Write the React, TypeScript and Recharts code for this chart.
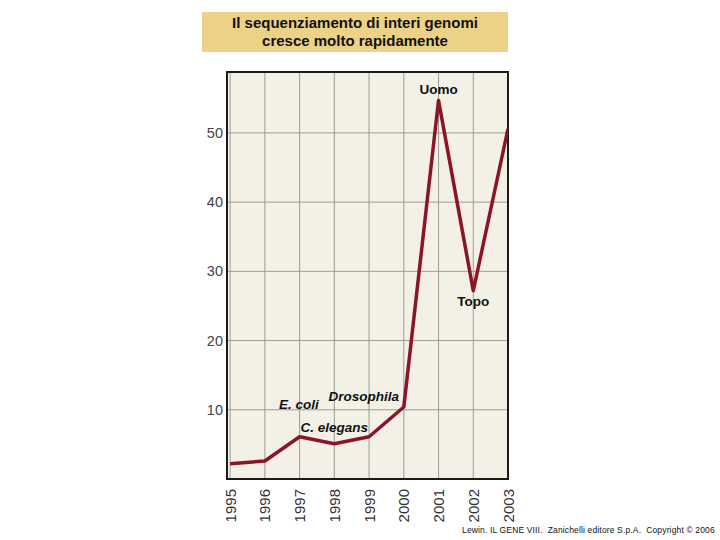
import React from 'react';
import {
  LineChart, Line, XAxis, YAxis, CartesianGrid, ReferenceDot, ReferenceArea,
} from 'recharts';

const years = [1995, 1996, 1997, 1998, 1999, 2000, 2001, 2002, 2003];
const genomes = [2.2, 2.6, 6.1, 5.1, 6.1, 10.4, 54.7, 27.2, 50.6];
const yTicks = [10, 20, 30, 40, 50];
const titleLines = ['Il sequenziamento di interi genomi', 'cresce molto rapidamente'];
const credit = 'Lewin. IL GENE VIII.  Zanichelli editore S.p.A.  Copyright \u00A9 2006';

const labelNames = ['Uomo', 'Topo', 'E. coli', 'Drosophila', 'C. elegans'];
const labelYears = [2001, 2002, 1996.98, 1998.85, 1998.0];
const labelValues = [54.7, 27.2, 10.8, 12.0, 7.55];
const labelPositions = ['top', 'bottom', 'center', 'center', 'center'];
const labelItalic = [false, false, true, true, true];

const data = years.map((y, i) => ({ year: y, value: genomes[i] }));
const X_DOMAIN: [number, number] = [1994.91, 2003.0];
const Y_DOMAIN: [number, number] = [0, 58.8];

const XTick = (props: any) => {
  const { x, y, payload } = props;
  return (
    <text
      x={x}
      y={y}
      transform={`rotate(-90 ${x} ${y})`}
      textAnchor="end"
      dominantBaseline="central"
      fontSize={15}
      fill="#333"
      fontFamily="Liberation Sans, Arial, sans-serif"
    >
      {payload.value}
    </text>
  );
};

export default function App() {
  return (
    <div style={{ position: 'absolute', left: 0, top: 0, width: 720, height: 540, background: '#fff' }}>
      <div
        style={{
          position: 'absolute', left: 202, top: 12, width: 306, height: 40,
          background: '#ECD286', fontFamily: 'Liberation Sans, Arial, sans-serif',
          fontWeight: 'bold', fontSize: 15, lineHeight: '18px', textAlign: 'center',
          color: '#111', paddingTop: 2, boxSizing: 'border-box',
        }}
      >
        {titleLines.map((t, i) => (
          <div key={i}>{t}</div>
        ))}
      </div>
      <LineChart
        width={720}
        height={540}
        data={data}
        margin={{ top: 72, right: 212, bottom: 11, left: 197 }}
        style={{ position: 'absolute', left: 0, top: 0 }}
      >
        <CartesianGrid fill="#F3F1E6" stroke="#9c9c96" strokeWidth={1} />
        <XAxis
          dataKey="year"
          type="number"
          domain={X_DOMAIN}
          ticks={years}
          interval={0}
          allowDataOverflow
          axisLine={false}
          tickLine={false}
          height={50}
          tick={<XTick />}
          tickSize={6}
          tickMargin={4}
        />
        <YAxis
          type="number"
          domain={Y_DOMAIN}
          ticks={yTicks}
          allowDataOverflow
          axisLine={false}
          tickLine={false}
          width={30}
          tickSize={4}
          tickMargin={0}
          tick={{ fontSize: 14.5, fill: '#444', fontFamily: 'Liberation Sans, Arial, sans-serif' }}
        />
        <Line
          type="linear"
          dataKey="value"
          stroke="#8A1524"
          strokeWidth={3.5}
          dot={false}
          isAnimationActive={false}
          strokeLinejoin="round"
        />
        <ReferenceArea
          x1={X_DOMAIN[0]}
          x2={X_DOMAIN[1]}
          y1={Y_DOMAIN[0]}
          y2={Y_DOMAIN[1]}
          fill="none"
          fillOpacity={0}
          stroke="#1a1a1a"
          strokeWidth={2}
          ifOverflow="visible"
        />
        {labelNames.map((name, i) => (
          <ReferenceDot
            key={name}
            x={labelYears[i]}
            y={labelValues[i]}
            r={1}
            fill="none"
            stroke="none"
            ifOverflow="visible"
            label={{
              value: name,
              position: labelPositions[i] as any,
              offset: 5,
              fontSize: 13.5,
              fontWeight: 'bold',
              fontStyle: labelItalic[i] ? 'italic' : 'normal',
              fill: '#111',
              fontFamily: 'Liberation Sans, Arial, sans-serif',
            }}
          />
        ))}
      </LineChart>
      <div
        style={{
          position: 'absolute', left: 462, top: 525, fontSize: 8.5,
          letterSpacing: '0.15px', lineHeight: '10px',
          fontFamily: 'Liberation Sans, Arial, sans-serif',
          color: '#111', whiteSpace: 'pre',
        }}
      >
        {credit}
      </div>
    </div>
  );
}
